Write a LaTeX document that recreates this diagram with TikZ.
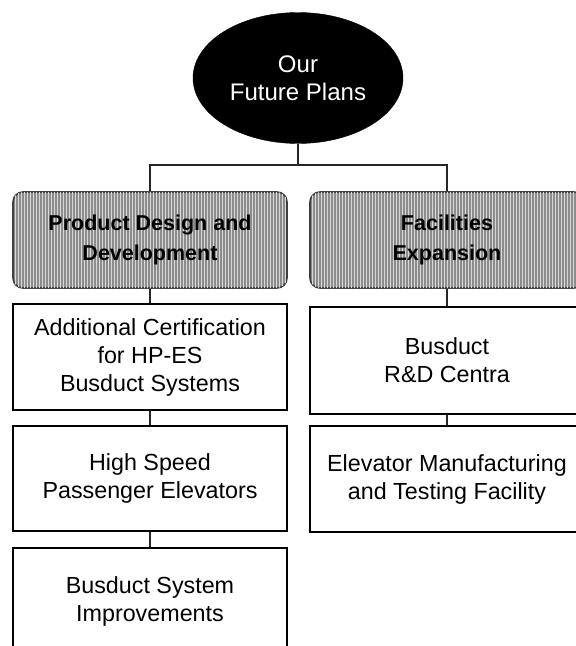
\documentclass[tikz,border=0pt]{standalone}
\usepackage{fontspec}
\setmainfont{Liberation Sans}
\usetikzlibrary{shapes.geometric,patterns}
\tikzset{
  topnode/.style={ellipse, fill=black, draw=black, minimum width=210pt, minimum height=131pt, inner sep=0pt, text=white, align=center, font=\fontsize{24}{28}\selectfont},
  headbox/.style={rectangle, draw=black!75, line width=1.6pt, rounded corners=10pt, fill=black!45, postaction={pattern=vertical lines, pattern color=black!15}, minimum width=274pt, inner sep=0pt, align=center, font=\bfseries\fontsize{21.5}{30}\selectfont},
  itembox/.style={rectangle, draw=black, line width=1.6pt, fill=white, minimum width=274pt, inner sep=0pt, align=center, font=\fontsize{23.3}{28}\selectfont},
  link/.style={draw=black!85, line width=1.3pt}
}
\begin{document}
\begin{tikzpicture}[x=1pt, y=-1pt]
\useasboundingbox (0,0) rectangle (576,646);
\fill[white] (0,0) rectangle (576,646);
\node[topnode] (top) at (298,78) {Our\\Future Plans};
\node[headbox, minimum height=96pt] (pdd) at (150,240) {Product Design and\\Development};
\node[headbox, minimum height=96pt] (fe) at (447,240) {Facilities\\Expansion};
\node[itembox, minimum height=106pt] (l1) at (150,357) {Additional Certification\\for HP-ES\\Busduct Systems};
\node[itembox, minimum height=105pt] (l2) at (150,478.5) {High Speed\\Passenger Elevators};
\node[itembox, minimum height=106pt] (l3) at (150,601) {Busduct System\\Improvements};
\node[itembox, minimum height=107pt] (r1) at (447,360.5) {Busduct\\R\&D Centra};
\node[itembox, minimum height=106pt] (r2) at (447,479) {Elevator Manufacturing\\and Testing Facility};
\coordinate (j) at (298,165);
\draw[link] (top.south) -- (j);
\draw[link] (pdd.north) |- (j) -| (fe.north);
\draw[link] (pdd.south) -- (l1.north);
\draw[link] (l1.south) -- (l2.north);
\draw[link] (l2.south) -- (l3.north);
\draw[link] (fe.south) -- (r1.north);
\draw[link] (r1.south) -- (r2.north);
\end{tikzpicture}
\end{document}
